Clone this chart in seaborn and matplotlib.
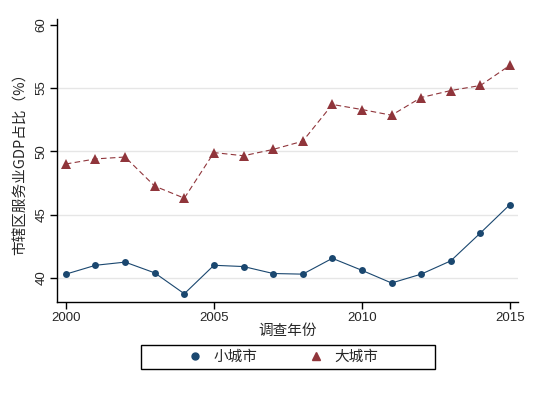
import pandas as pd
import matplotlib
matplotlib.use("Agg")
import matplotlib.pyplot as plt
from matplotlib.patches import Rectangle
import seaborn as sns

# 数据
years = list(range(2000, 2016))
small_city = [40.3, 41.0, 41.25, 40.4, 38.75, 41.0, 40.9, 40.35, 40.3, 41.55,
              40.6, 39.6, 40.3, 41.35, 43.55, 45.8]
large_city = [49.0, 49.4, 49.55, 47.25, 46.3, 49.9, 49.65, 50.15, 50.8, 53.7,
              53.3, 52.85, 54.25, 54.8, 55.2, 56.8]
series_names = ["小城市", "大城市"]
y_ticks = [40, 45, 50, 55, 60]
x_ticks = [2000, 2005, 2010, 2015]

sns.set_style("white")
plt.rcParams["font.family"] = ["Liberation Sans", "Noto Sans CJK SC", "DejaVu Sans"]

df = pd.DataFrame({
    "year": years * 2,
    "value": small_city + large_city,
    "city": [series_names[0]] * len(years) + [series_names[1]] * len(years),
})

fig = plt.figure(figsize=(5.38, 3.94), dpi=100)
ax = fig.add_axes([57 / 538, 92 / 394, 461 / 538, 283 / 394])

palette = {"小城市": "#1a476f", "大城市": "#90353b"}
sns.lineplot(
    data=df, x="year", y="value", hue="city", style="city",
    palette=palette,
    markers={"小城市": "o", "大城市": "^"},
    dashes={"小城市": "", "大城市": (5, 3)},
    markersize=5, markeredgewidth=0, linewidth=0.8,
    ax=ax, legend=False,
)
# 三角形标记稍大一些
for line in ax.lines:
    if line.get_marker() == "^":
        line.set_markersize(7)

ax.set_xlim(1999.7, 2015.27)
ax.set_ylim(38.1, 60.45)
ax.set_xticks(x_ticks)
ax.set_yticks(y_ticks)
ax.set_yticklabels([str(t) for t in y_ticks], rotation=90, va="center")
for t in [40, 45, 50, 55]:
    ax.axhline(t, color="#e6e6e6", linewidth=1, zorder=0)

for s in ["top", "right"]:
    ax.spines[s].set_visible(False)
for s in ["left", "bottom"]:
    ax.spines[s].set_color("black")
    ax.spines[s].set_linewidth(1)
ax.tick_params(axis="both", direction="out", length=5, width=1, color="black",
               labelsize=9.5, pad=2, bottom=True, left=True)

ax.set_xlabel("调查年份", fontsize=10.5, labelpad=0, family=["Noto Sans CJK SC"])
ax.set_ylabel("市辖区服务业GDP占比（%）", fontsize=10.5, labelpad=5,
              family=["Noto Sans CJK SC"])

# 图例（方框单独绘制）
handles = [
    plt.Line2D([], [], color=palette["小城市"], marker="o", linestyle="none", markersize=5),
    plt.Line2D([], [], color=palette["大城市"], marker="^", linestyle="none", markersize=6),
]
fig.legend(handles, series_names, loc="center",
           bbox_to_anchor=(283 / 538, 1 - 357 / 394), ncol=2,
           frameon=False, columnspacing=3.5, handlelength=1.0,
           handletextpad=0.8, borderpad=0.2,
           prop={"family": ["Noto Sans CJK SC"], "size": 10.5})
fig.patches.append(Rectangle((141 / 538, 1 - 369 / 394), 294 / 538, 24 / 394,
                             transform=fig.transFigure, fill=False,
                             edgecolor="black", linewidth=1))

fig.savefig("out.png", dpi=100)
